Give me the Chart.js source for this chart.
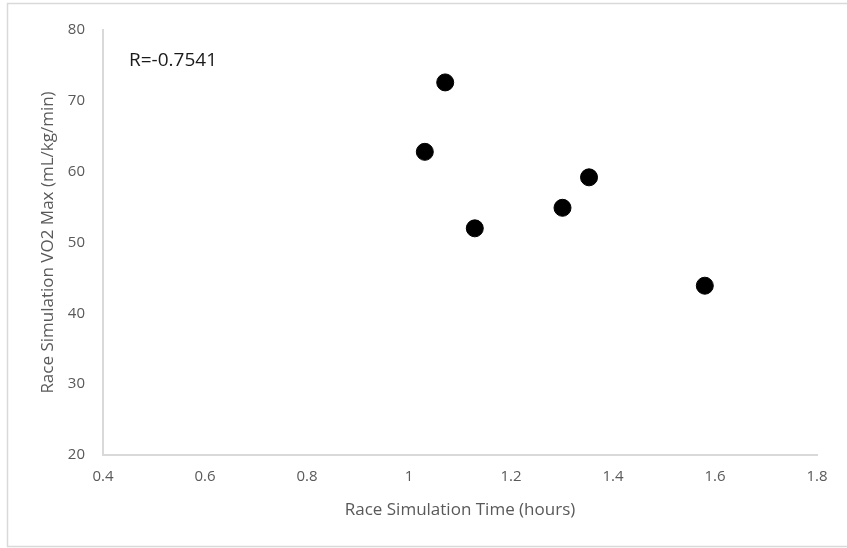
<!DOCTYPE html>
<html lang="en">
<head>
    <meta charset="UTF-8">
    <title>VO2 Max vs Race Time</title>
    <script src="https://cdn.jsdelivr.net/npm/chart.js"></script>
    <style>
        body { margin: 0; background: #fff; }
    </style>
</head>
<body>
    <canvas id="myChart" width="847" height="548"></canvas>

    <script>
        // race simulation time (hours) and VO2 max (mL/kg/min) per athlete
        var raceTime = [1.071, 1.031, 1.353, 1.301, 1.129, 1.580];
        var vo2Max = [72.6, 62.8, 59.2, 54.9, 52.0, 43.9];
        var xTickLabels = ['0.4', '0.6', '0.8', '1', '1.2', '1.4', '1.6', '1.8'];
        var rLabel = 'R=-0.7541';

        var points = raceTime.map(function (t, i) {
            return { x: t, y: vo2Max[i] };
        });

        var FONT = "'Open Sans'";

        // light frame around the whole chart + the R value
        const framePlugin = {
            id: 'frame',
            afterDraw(chart) {
                const ctx = chart.ctx;
                ctx.save();
                ctx.strokeStyle = '#d9d9d9';
                ctx.lineWidth = 1.5;
                ctx.beginPath();
                ctx.moveTo(847, 3.5);
                ctx.lineTo(7.5, 3.5);
                ctx.lineTo(7.5, 546.5);
                ctx.lineTo(847, 546.5);
                ctx.stroke();

                ctx.fillStyle = '#1a1a1a';
                ctx.font = '19px ' + FONT;
                ctx.textBaseline = 'alphabetic';
                ctx.fillText(rLabel, 129, 66);
                ctx.restore();
            }
        };

        const config = {
            type: 'scatter',
            data: {
                datasets: [{
                    data: points,
                    backgroundColor: '#000',
                    borderColor: '#000',
                    pointRadius: 8.5,
                    pointHoverRadius: 8.5
                }]
            },
            options: {
                responsive: false,
                animation: false,
                layout: { padding: { top: 30, right: 30, left: 0, bottom: 0 } },
                plugins: {
                    legend: { display: false },
                    tooltip: { enabled: false }
                },
                scales: {
                    x: {
                        type: 'linear',
                        min: 0.4,
                        max: 1.8,
                        afterFit: function (s) { s.height = 93; },
                        grid: { display: false, drawTicks: false },
                        border: { display: true, color: '#d9d9d9', width: 2 },
                        ticks: {
                            stepSize: 0.2,
                            padding: 13,
                            color: '#595959',
                            font: { family: FONT, size: 15 },
                            callback: function (v, i) { return xTickLabels[i]; }
                        },
                        title: {
                            display: true,
                            text: 'Race Simulation Time (hours)',
                            color: '#595959',
                            font: { family: FONT, size: 17 },
                            padding: { top: 0, bottom: 28 }
                        }
                    },
                    y: {
                        min: 20,
                        max: 80,
                        afterFit: function (s) { s.width = 103; },
                        grid: { display: false, drawTicks: false },
                        border: { display: true, color: '#d9d9d9', width: 2 },
                        ticks: {
                            stepSize: 10,
                            padding: 18,
                            color: '#595959',
                            font: { family: FONT, size: 15 }
                        },
                        title: {
                            display: true,
                            text: 'Race Simulation VO2 Max (mL/kg/min)',
                            color: '#595959',
                            font: { family: FONT, size: 17 },
                            padding: { top: 38, bottom: 0 }
                        }
                    }
                }
            },
            plugins: [framePlugin]
        };

        const ctx = document.getElementById('myChart').getContext('2d');
        const chart = new Chart(ctx, config);
    </script>
</body>
</html>
